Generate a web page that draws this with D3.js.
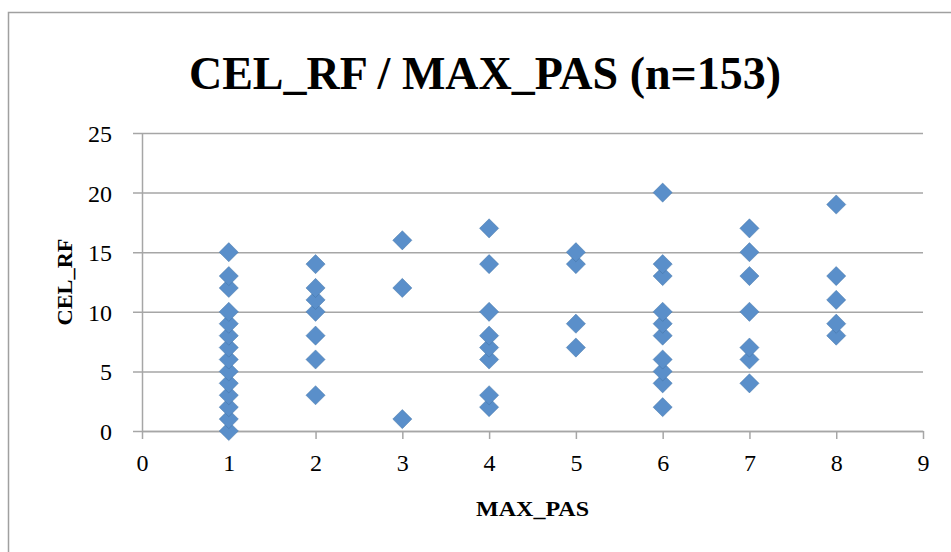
<!DOCTYPE html>
<html>
<head>
<meta charset="utf-8">
<script src="https://cdn.jsdelivr.net/npm/d3@7"></script>
<style>
  body { margin: 0; background: #fff; }
  text { font-family: "Liberation Serif", "DejaVu Serif", serif; fill: #000; }
</style>
</head>
<body>
<svg id="chart" width="951" height="552"></svg>
<script>
// values (duplicates overlap, so only distinct points are kept)
const maxPas = [
    1, 1, 1, 1, 1, 1, 1, 1, 1, 1, 1, 1, 1, 1,
    2, 2, 2, 2, 2, 2, 2,
    3, 3, 3,
    4, 4, 4, 4, 4, 4, 4, 4,
    5, 5, 5, 5,
    6, 6, 6, 6, 6, 6, 6, 6, 6, 6,
    7, 7, 7, 7, 7, 7, 7,
    8, 8, 8, 8, 8
];
const celRf = [
    0, 1, 2, 3, 4, 5, 6, 7, 8, 9, 10, 12, 13, 15,
    3, 6, 8, 10, 11, 12, 14,
    1, 12, 16,
    2, 3, 6, 7, 8, 10, 14, 17,
    7, 9, 14, 15,
    2, 4, 5, 6, 8, 9, 10, 13, 14, 20,
    4, 6, 7, 10, 13, 15, 17,
    8, 9, 11, 13, 19
];
const xTicks = [0, 1, 2, 3, 4, 5, 6, 7, 8, 9];
const yTicks = [0, 5, 10, 15, 20, 25];

const chartTitle = "CEL_RF / MAX_PAS (n=153)";
const xTitle = "MAX_PAS";
const yTitle = "CEL_RF";

const svg = d3.select("#chart");
const plot = { left: 142, right: 923, top: 133, bottom: 431 };
const gridColor = "#a6a6a6";

// outer chart frame (cut off at right and bottom like the original)
svg.append("rect")
    .attr("x", 8.5).attr("y", 12.5)
    .attr("width", 980).attr("height", 600)
    .attr("fill", "none")
    .attr("stroke", "#a0a0a0")
    .attr("stroke-width", 1.5);

const x = d3.scaleLinear().domain([0, 9]).range([plot.left, plot.right]);
const y = d3.scaleLinear().domain([0, 25]).range([plot.bottom, plot.top]);

// y axis with gridlines
const yAxis = svg.append("g")
    .attr("transform", "translate(" + plot.left + ",0)")
    .call(d3.axisLeft(y)
        .tickValues(yTicks)
        .tickSizeOuter(0)
        .tickPadding(24));
yAxis.selectAll(".tick line")
    .attr("x2", plot.right - plot.left)
    .attr("x1", -9);
yAxis.selectAll("text")
    .attr("font-size", 24)
    .attr("font-family", '"Liberation Serif", serif')
    .attr("dy", "0.35em");

// x axis
const xAxis = svg.append("g")
    .attr("transform", "translate(0," + plot.bottom + ")")
    .call(d3.axisBottom(x)
        .tickValues(xTicks)
        .tickSizeInner(8)
        .tickSizeOuter(0)
        .tickPadding(15));
xAxis.selectAll("text")
    .attr("font-size", 24)
    .attr("font-family", '"Liberation Serif", serif');

svg.selectAll(".domain, .tick line")
    .attr("stroke", gridColor)
    .attr("stroke-width", 1.5);
svg.selectAll(".tick text").attr("fill", "#000");

// markers
const diamond = d3.symbol().type(d3.symbolDiamond2).size(235);
svg.append("g")
    .selectAll("path")
    .data(d3.range(maxPas.length))
    .join("path")
    .attr("d", diamond)
    .attr("transform", i => "translate(" + x(maxPas[i]) + "," + y(celRf[i]) + ")")
    .attr("fill", "#5a8fca")
    .attr("stroke", "#3f6e9f")
    .attr("stroke-width", 0.6)
    .attr("stroke-opacity", 0.7);

// titles
svg.append("text")
    .attr("x", 485).attr("y", 89)
    .attr("text-anchor", "middle")
    .attr("font-size", 46)
    .attr("font-weight", "bold")
    .attr("textLength", 592)
    .attr("lengthAdjust", "spacingAndGlyphs")
    .text(chartTitle);

svg.append("text")
    .attr("x", (plot.left + plot.right) / 2).attr("y", 516)
    .attr("text-anchor", "middle")
    .attr("font-size", 22)
    .attr("font-weight", "bold")
    .attr("textLength", 113)
    .attr("lengthAdjust", "spacingAndGlyphs")
    .text(xTitle);

svg.append("text")
    .attr("transform", "translate(72," + (plot.top + plot.bottom) / 2 + ") rotate(-90)")
    .attr("text-anchor", "middle")
    .attr("font-size", 22)
    .attr("font-weight", "bold")
    .attr("textLength", 87)
    .attr("lengthAdjust", "spacingAndGlyphs")
    .text(yTitle);
</script>
</body>
</html>
